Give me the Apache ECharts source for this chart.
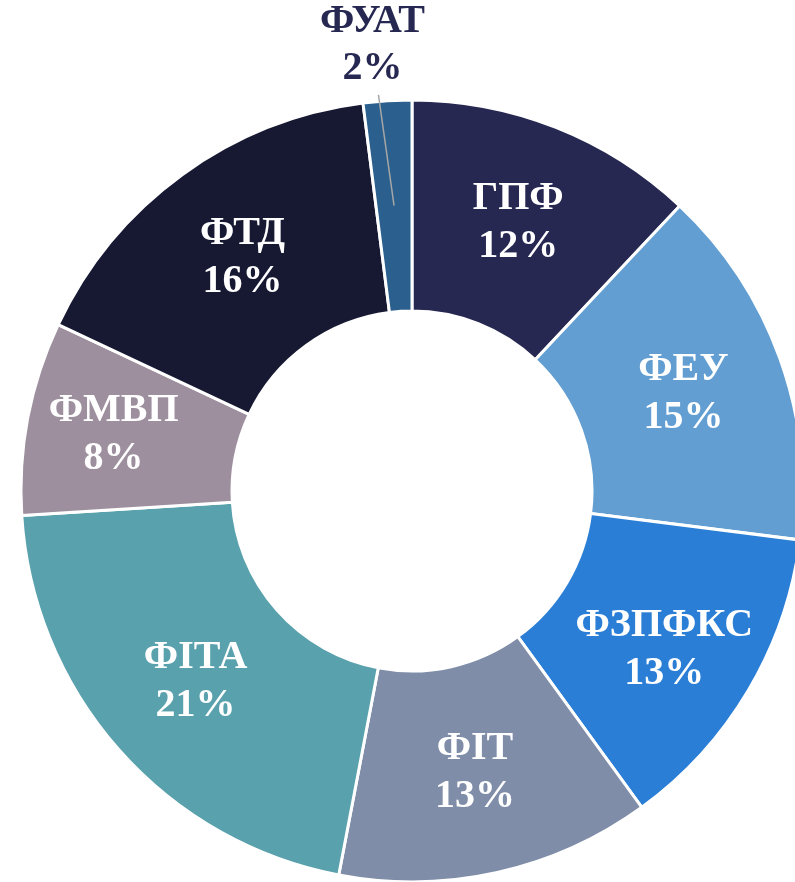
<!DOCTYPE html>
<html>
<head>
<meta charset="utf-8">
<script src="https://cdn.jsdelivr.net/npm/echarts@6/dist/echarts.min.js"></script>
<style>
    html, body { margin: 0; padding: 0; background: #ffffff; }
    #main { width: 795px; height: 882px; }
</style>
</head>
<body>
<div id="main"></div>
<script>
    // дані діаграми
    var names = ['ГПФ', 'ФЕУ', 'ФЗПФКС', 'ФІТ', 'ФІТА', 'ФМВП', 'ФТД', 'ФУАТ'];
    var shares = [12, 15, 13, 13, 21, 8, 16, 2];
    var colors = ['#262852', '#629ED1', '#2A7ED6', '#7F8DA8', '#59A1AC', '#9D8F9E', '#171933', '#2B5F8D'];

    var fontFam = "'Times New Roman', 'Liberation Serif', serif";
    var outsideIdx = names.length - 1; // ФУАТ підписаний зовні
    // невеликі зсуви підписів, як у оригіналі
    var labelShift = { 'ФЗПФКС': [4, 12], 'ФМВП': [-15, -2] };

    var chartDom = document.getElementById('main');
    var myChart = echarts.init(chartDom);

    var labelFmt = function (p) {
        return p.name + '\n' + Math.round(p.percent) + '%';
    };

    // основне кільце
    var ringData = names.map(function (n, i) {
        var item = {
            name: n,
            value: shares[i],
            itemStyle: { color: colors[i] }
        };
        if (i === outsideIdx) {
            item.label = { show: false };
        } else if (labelShift[n]) {
            item.label = { offset: labelShift[n] };
        }
        return item;
    });

    // прозорий шар зверху - тільки для виноски ФУАТ
    var calloutData = names.map(function (n, i) {
        var item = { name: n, value: shares[i] };
        if (i === outsideIdx) {
            item.label = { show: true };
            item.labelLine = { show: true };
        }
        return item;
    });

    var option = {
        animation: false,
        series: [
            {
                type: 'pie',
                z: 2,
                center: [412, 491],
                radius: [180, 391],
                startAngle: 90,
                clockwise: true,
                avoidLabelOverlap: false,
                itemStyle: {
                    borderColor: '#ffffff',
                    borderWidth: 3
                },
                label: {
                    show: true,
                    position: 'inside',
                    color: '#ffffff',
                    fontFamily: fontFam,
                    fontWeight: 'bold',
                    fontSize: 40,
                    lineHeight: 48,
                    formatter: labelFmt
                },
                labelLine: { show: false },
                data: ringData
            },
            {
                type: 'pie',
                z: 5,
                silent: true,
                center: [412, 491],
                radius: [180, 391],
                startAngle: 90,
                clockwise: true,
                avoidLabelOverlap: false,
                itemStyle: { color: 'rgba(0,0,0,0)', borderWidth: 0 },
                emphasis: { disabled: true },
                label: {
                    show: false,
                    position: 'outside',
                    color: '#262852',
                    fontFamily: fontFam,
                    fontWeight: 'bold',
                    fontSize: 40,
                    lineHeight: 47,
                    formatter: labelFmt
                },
                labelLine: {
                    show: false,
                    length: 10,
                    length2: 0,
                    lineStyle: { color: '#a6a6a6', width: 1.5 }
                },
                labelLayout: function (p) {
                    if (p.dataIndex !== outsideIdx || !p.labelLinePoints) return {};
                    var a = p.labelLinePoints[0];
                    var b = p.labelLinePoints[1];
                    var dx = b[0] - a[0], dy = b[1] - a[1];
                    var len = Math.sqrt(dx * dx + dy * dy) || 1;
                    dx /= len; dy /= len;
                    var inner = [a[0] - dx * 105, a[1] - dy * 105];
                    var top = [a[0] - 9, a[1] - 6];
                    return {
                        x: a[0] - 15,
                        y: a[1] - 9,
                        align: 'center',
                        verticalAlign: 'bottom',
                        labelLinePoints: [inner, [(inner[0] + top[0]) / 2, (inner[1] + top[1]) / 2], top]
                    };
                },
                data: calloutData
            }
        ]
    };

    myChart.setOption(option);
</script>
</body>
</html>
